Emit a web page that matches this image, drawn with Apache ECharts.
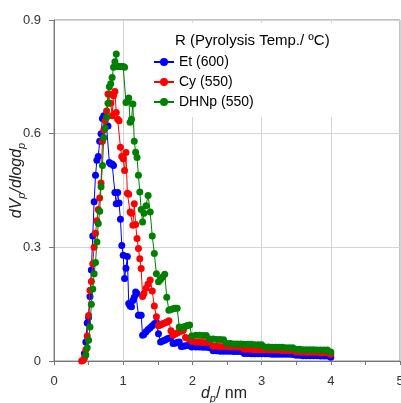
<!DOCTYPE html>
<html><head><meta charset="utf-8">
<script src="https://cdn.jsdelivr.net/npm/echarts@6/dist/echarts.min.js"></script>
<style>html,body{margin:0;padding:0;background:#fff}#c{width:401px;height:403px}</style>
</head><body><div id="c"></div>
<script>
// pore diameter dp (nm), shared by the three series
const dp = [0.40,0.42,0.44,0.46,0.48,0.50,0.52,0.54,0.56,0.58,0.60,0.62,0.64,0.66,0.68,0.70,0.72,0.74,0.76,0.78,
  0.80,0.82,0.84,0.86,0.88,0.90,0.92,0.94,0.96,0.98,1.00,1.02,1.04,1.06,1.08,1.10,1.12,1.14,1.16,1.18,
  1.20,1.22,1.24,1.26,1.28,1.30,
  1.33,1.36,1.39,1.42,1.45,1.48,1.51,1.54,1.57,1.60,1.63,1.66,1.69,1.72,1.75,1.78,1.81,1.84,1.87,1.90,1.93,1.96,1.99,
  2.05,2.10,2.15,2.20,2.25,2.30,2.35,2.40,2.45,2.50,2.55,2.60,2.65,2.70,2.75,2.80,2.85,2.90,2.95,3.00,
  3.05,3.10,3.15,3.20,3.25,3.30,3.35,3.40,3.45,3.50,3.55,3.60,3.65,3.70,3.75,3.80,3.85,3.90,3.95,4.00];

const et600 = [null,null,0.02,0.05,0.10,0.115,0.17,0.24,0.33,0.42,0.49,0.53,0.54,0.58,0.60,0.64,0.647,0.64,0.62,0.62,
  0.524,0.52,0.52,0.516,0.445,0.415,0.445,0.417,0.374,0.305,0.279,0.218,0.245,0.276,0.152,0.145,0.143,0.16,0.168,0.182,
  0.178,0.121,0.121,0.121,0.068,0.070,
  0.077,0.083,0.088,0.093,0.098,0.102,0.072,0.050,0.053,0.055,0.058,0.060,0.062,0.046,0.047,0.049,0.050,0.038,0.039,0.040,0.041,0.042,0.037,
  0.037,0.037,0.036,0.036,0.035,0.027,0.027,0.026,0.026,0.026,0.026,0.025,0.025,0.025,0.020,0.020,0.019,0.019,0.019,0.019,
  0.019,0.019,0.018,0.018,0.018,0.018,0.018,0.018,0.017,0.015,0.015,0.014,0.014,0.014,0.014,0.014,0.013,0.013,0.013,0.010];

const cy550 = [0.0,0.002,0.008,0.03,0.066,0.12,0.187,0.21,0.257,0.30,0.337,0.37,0.40,0.43,0.47,0.58,0.61,0.634,0.66,0.705,
  0.705,0.68,0.647,0.70,0.711,0.656,0.638,0.634,0.564,0.54,0.534,0.503,0.55,0.443,0.44,0.393,0.39,0.358,0.415,0.36,
  0.323,0.297,0.27,0.244,0.17,0.178,
  0.192,0.203,0.214,0.185,0.145,0.117,0.093,0.095,0.098,0.100,0.103,0.106,0.080,0.068,0.071,0.074,0.077,0.079,0.082,0.062,0.060,0.058,0.052,
  0.050,0.050,0.049,0.049,0.048,0.039,0.039,0.038,0.038,0.038,0.037,0.037,0.037,0.036,0.031,0.031,0.031,0.030,0.030,0.030,
  0.030,0.029,0.029,0.029,0.029,0.028,0.028,0.028,0.028,0.024,0.024,0.024,0.023,0.023,0.023,0.023,0.022,0.022,0.022,0.018];

const dhnp550 = [null,null,null,0.016,0.035,0.055,0.09,0.15,0.19,0.23,0.26,0.314,0.363,0.395,0.46,0.516,0.59,0.615,0.643,0.68,
  0.724,0.732,0.748,0.775,0.79,0.81,0.777,0.777,0.777,0.777,0.777,0.775,0.682,0.685,0.694,0.63,0.638,0.678,0.58,0.551,
  0.537,0.49,0.446,0.40,0.367,0.39,
  0.41,0.437,0.393,0.33,0.284,0.23,0.209,0.215,0.222,0.229,0.168,0.134,0.136,0.138,0.139,0.139,0.090,0.087,0.090,0.092,0.094,0.095,0.066,
  0.068,0.068,0.067,0.067,0.058,0.058,0.057,0.057,0.056,0.046,0.046,0.045,0.045,0.045,0.044,0.044,0.044,0.043,0.043,0.043,
  0.037,0.037,0.036,0.036,0.036,0.036,0.035,0.035,0.035,0.031,0.031,0.030,0.030,0.030,0.030,0.029,0.029,0.029,0.029,0.024];

const seriesNames = ['Et (600)','Cy (550)','DHNp (550)'];
const seriesValues = [et600, cy550, dhnp550];
const colors = ['#0000ff','#ff0000','#008000'];
const legendTitle = 'R (Pyrolysis Temp./ \u00baC)';
const xMin = 0, xMax = 5, xStep = 1;
const yMin = 0, yMax = 0.9, yStep = 0.3;

const FONT = "'Liberation Sans', Arial, sans-serif";

function pairs(vals){
  const out = [];
  dp.forEach((x,i)=>{ if (vals[i] !== null) out.push([x, vals[i]]); });
  return out;
}

const richName = {
  i: {fontFamily: FONT, fontStyle: 'italic', fontSize: 16, color: '#222', lineHeight: 20, verticalAlign: 'middle'},
  s: {fontFamily: FONT, fontStyle: 'italic', fontSize: 11, color: '#222', lineHeight: 20, verticalAlign: 'bottom'},
  n: {fontFamily: FONT, fontSize: 16, color: '#222', lineHeight: 20, verticalAlign: 'middle'}
};

const chart = echarts.init(document.getElementById('c'), null, {renderer:'canvas'});
chart.setOption({
  animation: false,
  backgroundColor: '#fff',
  textStyle: {fontFamily: FONT},
  color: colors,
  grid: {left: 54, right: 1, top: 20, bottom: 42, show: true, borderColor: '#888', borderWidth: 1,
         containLabel: false, outerBoundsMode: 'none'},
  title: {
    text: legendTitle, left: 170, top: 28, z: 10,
    textStyle: {fontFamily: FONT, fontSize: 15, fontWeight: 'normal', color: '#000'}
  },
  legend: {
    orient: 'vertical', left: 150, top: 23,
    padding: [32, 140, 8, 3],
    backgroundColor: '#fff',
    itemWidth: 20, itemHeight: 10, itemGap: 6,
    textStyle: {fontFamily: FONT, fontSize: 14, color: '#000', lineHeight: 14},
    data: seriesNames
  },
  xAxis: {
    type: 'value', min: xMin, max: xMax, interval: xStep,
    name: '{i|d}{s|p}{n|/ nm}',
    nameLocation: 'middle', nameGap: 23, nameMoveOverlap: false,
    nameTextStyle: {padding: [0, 6, 0, 0], rich: richName},
    axisLine: {show: true, onZero: false, lineStyle: {color: '#777', width: 1}},
    axisTick: {show: true, length: 4, lineStyle: {color: '#777'}},
    minorTick: {show: true, splitNumber: 2, length: 4, lineStyle: {color: '#777'}},
    axisLabel: {fontFamily: FONT, fontSize: 13, color: '#333', margin: 14, showMaxLabel: true},
    splitLine: {show: true, lineStyle: {color: '#d4d4d4', width: 1}}
  },
  yAxis: {
    type: 'value', min: yMin, max: yMax, interval: yStep,
    name: '{i|dV}{s|p}{i|/dlogd}{s|p}',
    nameLocation: 'middle', nameGap: 27, nameMoveOverlap: false,
    nameTextStyle: {padding: [0, 0, 0, 20], rich: richName},
    axisLine: {show: true, lineStyle: {color: '#777', width: 1}},
    axisTick: {show: true, length: 5, lineStyle: {color: '#777'}},
    axisLabel: {fontFamily: FONT, fontSize: 13, color: '#333', margin: 13},
    splitLine: {show: true, lineStyle: {color: '#d4d4d4', width: 1}}
  },
  series: seriesNames.map((n, k) => ({
    name: n, type: 'line',
    data: pairs(seriesValues[k]),
    symbol: 'circle', symbolSize: 7,
    showSymbol: true,
    lineStyle: {width: 1, color: colors[k]},
    itemStyle: {color: colors[k]},
    emphasis: {disabled: true},
    z: 2 + k
  }))
});
</script>
</body></html>
